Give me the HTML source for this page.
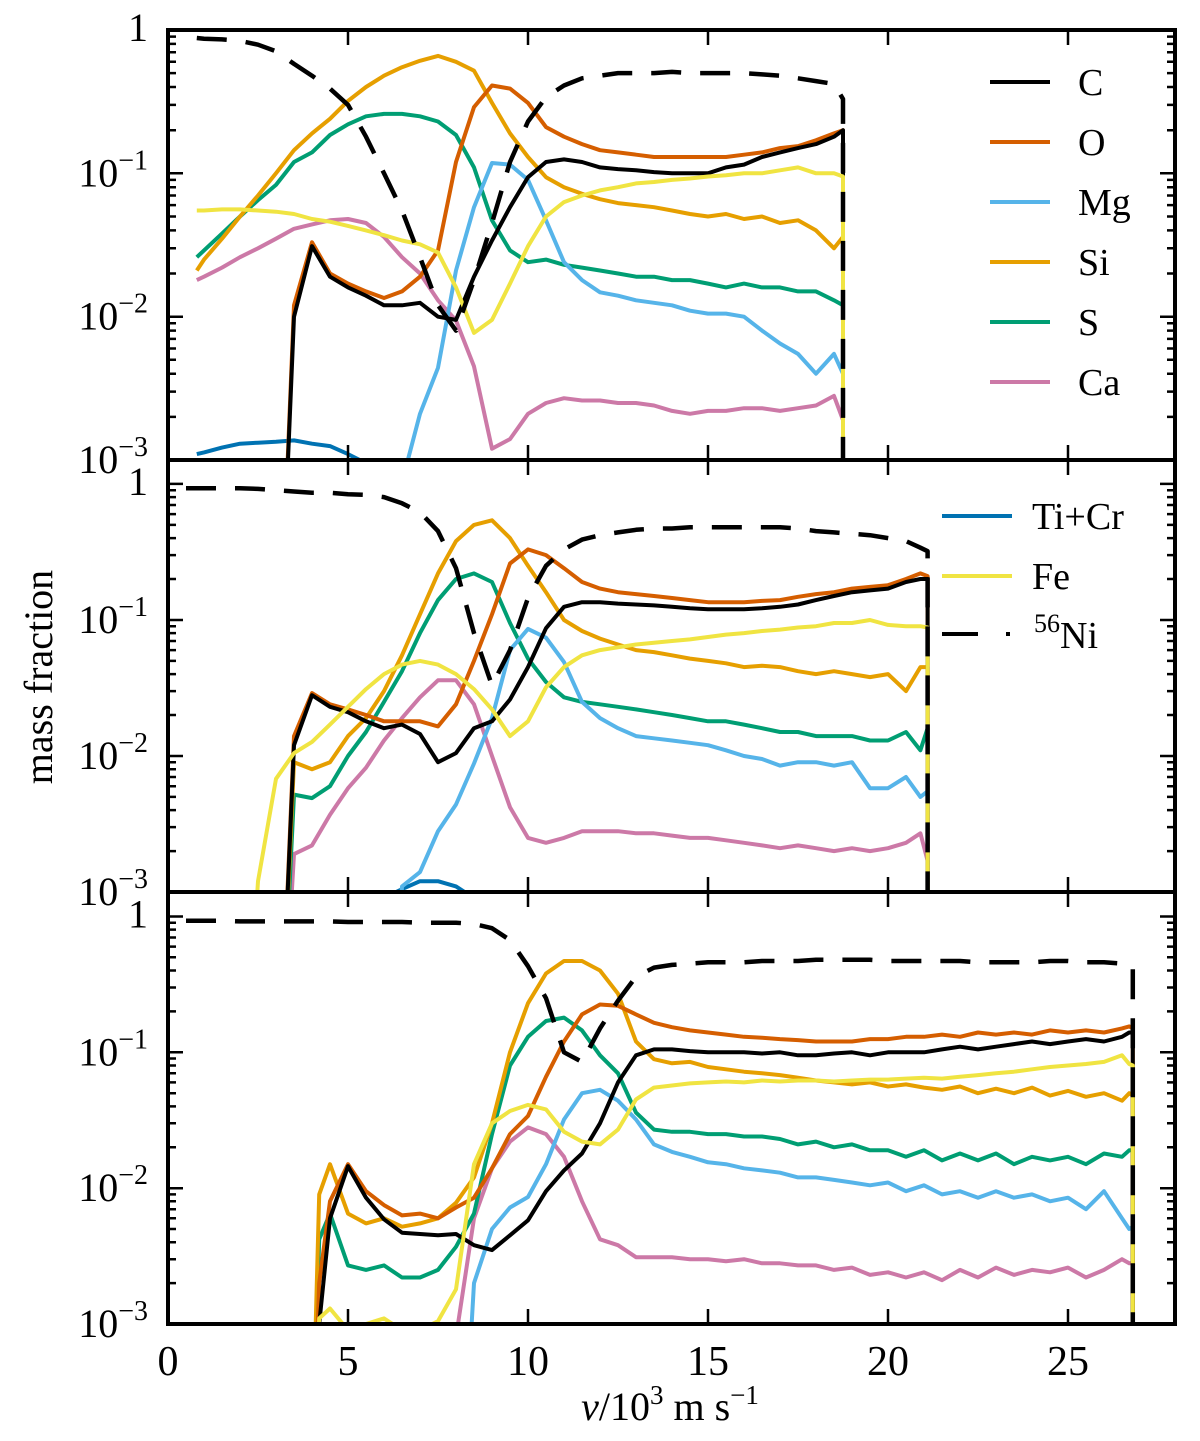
<!DOCTYPE html>
<html><head><meta charset="utf-8"><style>
html,body{margin:0;padding:0;background:#fff;width:1200px;height:1441px;overflow:hidden}
svg{display:block;font-family:"Liberation Serif",serif}
</style></head><body>
<svg id="chart" width="1200" height="1441" viewBox="0 0 1200 1441" font-family="Liberation Serif, serif">
<defs>
<clipPath id="c1"><rect x="168" y="30" width="1007" height="430"/></clipPath>
<clipPath id="c2"><rect x="168" y="460" width="1007" height="432"/></clipPath>
<clipPath id="c3"><rect x="168" y="892" width="1007" height="432"/></clipPath>
</defs>
<g id="marks"></g>
<g id="axes"></g>
<text x="52" y="677" font-size="40" text-anchor="middle" transform="rotate(-90 52 677)">mass fraction</text>
<text x="670" y="1420" font-size="40" text-anchor="middle"><tspan font-style="italic">v</tspan>/10<tspan font-size="27" dy="-16">3</tspan><tspan dy="16"> m s</tspan><tspan font-size="27" dy="-16">−1</tspan></text>
<g>
<line x1="990" y1="82" x2="1050" y2="82" stroke="#000" stroke-width="4"/><text x="1078" y="95" font-size="38">C</text>
<line x1="990" y1="142" x2="1050" y2="142" stroke="#D55E00" stroke-width="4"/><text x="1078" y="155" font-size="38">O</text>
<line x1="990" y1="202" x2="1050" y2="202" stroke="#56B4E9" stroke-width="4"/><text x="1078" y="215" font-size="38">Mg</text>
<line x1="990" y1="262" x2="1050" y2="262" stroke="#E69F00" stroke-width="4"/><text x="1078" y="275" font-size="38">Si</text>
<line x1="990" y1="322" x2="1050" y2="322" stroke="#009E73" stroke-width="4"/><text x="1078" y="335" font-size="38">S</text>
<line x1="990" y1="382" x2="1050" y2="382" stroke="#CC79A7" stroke-width="4"/><text x="1078" y="395" font-size="38">Ca</text>
</g>
<g>
<line x1="942" y1="516" x2="1012" y2="516" stroke="#0072B2" stroke-width="4"/><text x="1032" y="529" font-size="38">Ti+Cr</text>
<line x1="942" y1="576" x2="1012" y2="576" stroke="#F0E442" stroke-width="4"/><text x="1032" y="589" font-size="38">Fe</text>
<line x1="942" y1="634" x2="978" y2="634" stroke="#000" stroke-width="4"/><rect x="1006" y="632" width="4" height="4" fill="#000"/><text x="1034" y="648" font-size="38"><tspan font-size="26" dy="-16">56</tspan><tspan dy="16">Ni</tspan></text>
</g>
</svg>
<script>
const N = 1e-5;
const vel1 = [0.8,1,1.5,2,2.5,3,3.5,4,4.5,5,5.5,6,6.5,7,7.5,8,8.5,9,9.5,10,10.5,11,11.5,12,12.5,13,13.5,14,14.5,15,15.5,16,16.5,17,17.5,18,18.5,18.75,18.75];
const C1 = [N,N,N,N,N,N,0.01,0.031,0.019,0.016,0.014,0.012,0.012,0.0125,0.01,0.0095,0.019,0.034,0.058,0.094,0.12,0.125,0.12,0.11,0.107,0.105,0.102,0.1,0.1,0.1,0.11,0.115,0.13,0.14,0.15,0.16,0.18,0.2,N];
const O1 = [N,N,N,N,N,N,0.012,0.033,0.02,0.017,0.015,0.0135,0.015,0.019,0.029,0.12,0.29,0.41,0.39,0.31,0.21,0.18,0.16,0.145,0.14,0.135,0.13,0.13,0.13,0.13,0.13,0.135,0.14,0.15,0.155,0.17,0.19,0.2,N];
const Mg1 = [N,N,N,N,N,N,N,N,N,N,N,N,0.0007,0.0021,0.0044,0.021,0.058,0.118,0.115,0.09,0.047,0.024,0.018,0.0148,0.014,0.013,0.0125,0.012,0.011,0.0105,0.0105,0.01,0.008,0.0065,0.0055,0.004,0.0055,0.004,N];
const Si1 = [0.021,0.025,0.035,0.05,0.07,0.1,0.145,0.19,0.24,0.32,0.4,0.48,0.55,0.61,0.66,0.6,0.52,0.31,0.19,0.13,0.094,0.08,0.072,0.066,0.062,0.06,0.058,0.055,0.052,0.05,0.052,0.048,0.05,0.045,0.047,0.04,0.03,0.036,N];
const S1 = [0.026,0.029,0.038,0.05,0.065,0.083,0.12,0.14,0.185,0.22,0.25,0.26,0.26,0.25,0.23,0.185,0.11,0.047,0.029,0.024,0.025,0.023,0.022,0.021,0.02,0.019,0.019,0.018,0.018,0.017,0.016,0.017,0.016,0.016,0.015,0.015,0.013,0.012,N];
const Ca1 = [0.018,0.019,0.022,0.026,0.03,0.035,0.041,0.044,0.047,0.048,0.045,0.036,0.026,0.02,0.013,0.0094,0.0045,0.0012,0.0014,0.0021,0.0025,0.0027,0.0026,0.0026,0.0025,0.0025,0.0024,0.0022,0.0021,0.0022,0.0022,0.0023,0.0023,0.0022,0.0023,0.0024,0.0028,0.0019,N];
const TiCr1 = [0.0011,0.00113,0.00122,0.0013,0.00132,0.00134,0.00137,0.0013,0.00125,0.0011,0.00095,0.0008,N,N,N,N,N,N,N,N,N,N,N,N,N,N,N,N,N,N,N,N,N,N,N,N,N,N,N];
const Fe1 = [0.055,0.055,0.056,0.056,0.055,0.054,0.052,0.048,0.046,0.043,0.04,0.037,0.034,0.032,0.028,0.016,0.0077,0.0095,0.017,0.031,0.05,0.063,0.07,0.076,0.08,0.085,0.087,0.09,0.092,0.095,0.097,0.1,0.1,0.105,0.11,0.1,0.1,0.095,N];
const Ni1 = [0.88,0.87,0.86,0.84,0.79,0.71,0.58,0.48,0.39,0.3,0.18,0.1,0.055,0.026,0.012,0.008,0.018,0.045,0.12,0.23,0.34,0.41,0.46,0.48,0.5,0.5,0.5,0.51,0.5,0.5,0.5,0.5,0.49,0.48,0.46,0.44,0.42,0.33,N];

const vel2 = [0.5,1,1.5,2,2.5,3,3.5,4,4.5,5,5.5,6,6.5,7,7.5,8,8.5,9,9.5,10,10.5,11,11.5,12,12.5,13,13.5,14,14.5,15,15.5,16,16.5,17,17.5,18,18.5,19,19.5,20,20.5,20.9,21.1,21.1];
const C2 = [N,N,N,N,N,N,0.012,0.028,0.023,0.021,0.018,0.016,0.017,0.0145,0.009,0.0105,0.016,0.018,0.026,0.045,0.087,0.125,0.135,0.135,0.132,0.13,0.128,0.125,0.122,0.12,0.12,0.12,0.122,0.125,0.13,0.14,0.15,0.16,0.165,0.17,0.19,0.2,0.2,N];
const O2 = [N,N,N,N,N,N,0.014,0.029,0.024,0.022,0.02,0.018,0.018,0.018,0.0165,0.024,0.05,0.11,0.26,0.33,0.3,0.24,0.19,0.17,0.16,0.155,0.15,0.145,0.14,0.135,0.135,0.135,0.138,0.14,0.148,0.155,0.16,0.17,0.175,0.18,0.2,0.22,0.21,N];
const Mg2 = [N,N,N,N,N,N,N,N,N,N,N,N,0.0011,0.0014,0.0028,0.0044,0.0088,0.019,0.06,0.086,0.074,0.049,0.025,0.019,0.016,0.014,0.0135,0.013,0.0125,0.012,0.011,0.01,0.0095,0.0085,0.009,0.009,0.0085,0.009,0.0058,0.0058,0.007,0.005,0.0055,N];
const Si2 = [N,N,N,N,N,N,0.009,0.008,0.009,0.014,0.019,0.03,0.055,0.11,0.22,0.38,0.5,0.54,0.4,0.25,0.16,0.1,0.083,0.073,0.066,0.06,0.058,0.055,0.052,0.05,0.048,0.045,0.046,0.045,0.042,0.04,0.042,0.04,0.038,0.04,0.03,0.045,0.045,N];
const S2 = [N,N,N,N,N,N,0.0052,0.0049,0.006,0.01,0.015,0.025,0.042,0.08,0.14,0.2,0.22,0.19,0.095,0.052,0.035,0.027,0.025,0.024,0.023,0.022,0.021,0.02,0.019,0.018,0.018,0.017,0.016,0.015,0.015,0.014,0.014,0.014,0.013,0.013,0.015,0.011,0.016,N];
const Ca2 = [N,N,N,N,N,N,0.0019,0.0022,0.0037,0.0058,0.0082,0.013,0.019,0.027,0.036,0.036,0.024,0.01,0.0042,0.0025,0.0023,0.0025,0.0028,0.0028,0.0028,0.0027,0.0027,0.0026,0.0025,0.0025,0.0024,0.0023,0.0022,0.0021,0.0022,0.0021,0.002,0.0021,0.002,0.0021,0.0023,0.0027,0.0017,N];
const TiCr2 = [N,N,N,N,N,N,N,N,N,N,N,0.0009,0.00105,0.0012,0.0012,0.0011,0.0009,N,N,N,N,N,N,N,N,N,N,N,N,N,N,N,N,N,N,N,N,N,N,N,N,N,N,N];
const Fe2 = [N,N,N,N,0.0012,0.0068,0.0105,0.0127,0.017,0.023,0.031,0.04,0.047,0.05,0.047,0.04,0.031,0.022,0.014,0.018,0.032,0.045,0.055,0.06,0.063,0.066,0.068,0.07,0.072,0.075,0.078,0.08,0.083,0.085,0.088,0.09,0.095,0.095,0.1,0.092,0.09,0.09,0.088,N];
const Ni2 = [0.93,0.93,0.93,0.93,0.92,0.9,0.88,0.86,0.86,0.84,0.83,0.8,0.72,0.62,0.45,0.24,0.08,0.033,0.06,0.145,0.25,0.33,0.39,0.42,0.44,0.46,0.47,0.47,0.48,0.48,0.48,0.48,0.48,0.48,0.47,0.45,0.44,0.43,0.42,0.4,0.38,0.34,0.32,N];

const vel3 = [0.5,1,1.5,2,2.5,3,3.5,3.9,4.2,4.5,5,5.5,6,6.5,7,7.5,8,8.5,9,9.5,10,10.5,11,11.5,12,12.5,13,13.5,14,14.5,15,15.5,16,16.5,17,17.5,18,18.5,19,19.5,20,20.5,21,21.5,22,22.5,23,23.5,24,24.5,25,25.5,26,26.5,26.7,26.8,26.8];
const C3 = [N,N,N,N,N,N,N,N,0.001,0.006,0.0145,0.0085,0.0059,0.0047,0.0046,0.0045,0.0046,0.0038,0.0035,0.0045,0.0058,0.0095,0.0135,0.018,0.03,0.06,0.095,0.105,0.105,0.102,0.1,0.1,0.1,0.098,0.1,0.095,0.095,0.098,0.1,0.095,0.1,0.1,0.1,0.105,0.11,0.105,0.11,0.115,0.12,0.115,0.12,0.125,0.12,0.13,0.14,0.14,N];
const O3 = [N,N,N,N,N,N,N,N,0.002,0.008,0.015,0.0095,0.0075,0.0063,0.0065,0.006,0.0072,0.0085,0.014,0.025,0.034,0.066,0.12,0.19,0.225,0.22,0.19,0.165,0.153,0.145,0.14,0.135,0.13,0.128,0.125,0.123,0.12,0.12,0.12,0.125,0.125,0.13,0.13,0.135,0.13,0.14,0.135,0.14,0.135,0.145,0.14,0.145,0.14,0.15,0.155,0.15,N];
const Mg3 = [N,N,N,N,N,N,N,N,N,N,N,N,N,N,N,N,N,0.002,0.005,0.0072,0.0086,0.015,0.032,0.05,0.053,0.044,0.032,0.021,0.0185,0.017,0.0155,0.015,0.014,0.0135,0.013,0.012,0.012,0.0115,0.011,0.0105,0.011,0.0095,0.0105,0.009,0.0095,0.0085,0.0095,0.0085,0.009,0.008,0.0085,0.007,0.0095,0.006,0.005,0.0052,N];
const Si3 = [N,N,N,N,N,N,N,N,0.009,0.015,0.0065,0.0055,0.006,0.0052,0.0055,0.006,0.0078,0.012,0.03,0.1,0.23,0.38,0.47,0.47,0.4,0.27,0.12,0.089,0.083,0.085,0.078,0.075,0.072,0.07,0.068,0.065,0.062,0.06,0.058,0.06,0.056,0.058,0.055,0.053,0.056,0.05,0.054,0.05,0.055,0.048,0.052,0.047,0.05,0.044,0.05,0.048,N];
const S3 = [N,N,N,N,N,N,N,N,0.0042,0.0065,0.0027,0.0025,0.0027,0.0022,0.0022,0.0025,0.0037,0.0065,0.025,0.08,0.13,0.17,0.18,0.145,0.095,0.07,0.036,0.027,0.026,0.026,0.025,0.025,0.024,0.024,0.023,0.021,0.022,0.02,0.021,0.019,0.019,0.017,0.019,0.016,0.018,0.016,0.018,0.015,0.017,0.016,0.017,0.015,0.018,0.017,0.019,0.019,N];
const Ca3 = [N,N,N,N,N,N,N,N,N,N,N,N,N,N,N,N,0.0008,0.006,0.014,0.022,0.028,0.025,0.017,0.008,0.0042,0.0038,0.0031,0.0031,0.0031,0.003,0.003,0.0029,0.003,0.0028,0.0028,0.0027,0.0027,0.0025,0.0026,0.0023,0.0024,0.0022,0.0024,0.0021,0.0025,0.0022,0.0026,0.0023,0.0025,0.0024,0.0026,0.0022,0.0025,0.003,0.0028,0.0028,N];
const TiCr3 = [N,N,N,N,N,N,N,N,N,N,N,N,N,N,N,N,N,N,N,N,N,N,N,N,N,N,N,N,N,N,N,N,N,N,N,N,N,N,N,N,N,N,N,N,N,N,N,N,N,N,N,N,N,N,N,N,N];
const Fe3 = [N,N,N,N,N,N,N,N,0.0011,0.0013,0.0009,0.001,0.0011,0.0009,0.0009,0.00105,0.0018,0.015,0.03,0.037,0.041,0.038,0.026,0.022,0.021,0.027,0.045,0.055,0.057,0.059,0.06,0.061,0.06,0.062,0.061,0.062,0.062,0.061,0.062,0.063,0.063,0.064,0.065,0.064,0.066,0.068,0.07,0.072,0.075,0.078,0.08,0.082,0.085,0.095,0.082,0.08,N];
const Ni3 = [0.93,0.93,0.93,0.92,0.92,0.92,0.92,0.92,0.92,0.92,0.91,0.91,0.91,0.91,0.9,0.9,0.9,0.88,0.82,0.67,0.43,0.25,0.1,0.085,0.15,0.24,0.36,0.42,0.44,0.45,0.46,0.46,0.46,0.47,0.47,0.47,0.48,0.48,0.48,0.48,0.47,0.47,0.47,0.47,0.47,0.46,0.46,0.46,0.46,0.47,0.47,0.46,0.46,0.45,0.44,0.43,N];

const xTicks = [0,5,10,15,20,25];
const yTickExp = [0,-1,-2,-3];
const yTickLabels = ["1","10|−1","10|−2","10|−3"];

const NS = "http://www.w3.org/2000/svg";
const X0 = 168, XR = 1175, PX = 36;
const panels = [
  {top:30, bot:460, lmax:0, clip:"c1", vel:vel1, s:{C:C1,O:O1,Mg:Mg1,Si:Si1,S:S1,Ca:Ca1,TiCr:TiCr1,Fe:Fe1,Ni:Ni1}},
  {top:460, bot:892, lmax:0.176, clip:"c2", vel:vel2, s:{C:C2,O:O2,Mg:Mg2,Si:Si2,S:S2,Ca:Ca2,TiCr:TiCr2,Fe:Fe2,Ni:Ni2}},
  {top:892, bot:1324, lmax:0.18, clip:"c3", vel:vel3, s:{C:C3,O:O3,Mg:Mg3,Si:Si3,S:S3,Ca:Ca3,TiCr:TiCr3,Fe:Fe3,Ni:Ni3}}
];
const colors = {C:"#000000",O:"#D55E00",Mg:"#56B4E9",Si:"#E69F00",S:"#009E73",Ca:"#CC79A7",TiCr:"#0072B2",Fe:"#F0E442",Ni:"#000000"};
const order = ["TiCr","Ca","S","Mg","Si","O","C","Fe","Ni"];
function xs(v){return X0 + v*PX;}
function ys(p,val){const l=Math.log10(Math.max(val,1e-6));return p.bot - (l+3)/(p.lmax+3)*(p.bot-p.top);}
const marks = document.getElementById('marks');
const axes = document.getElementById('axes');
panels.forEach((p,pi)=>{
  const g = document.createElementNS(NS,'g');
  g.setAttribute('clip-path','url(#'+p.clip+')');
  
  
  marks.appendChild(g);
  order.forEach(k=>{
    const arr = p.s[k];
    let d = "";
    arr.forEach((val,i)=>{d += (i?"L":"M") + xs(p.vel[i]).toFixed(1) + "," + ys(p,val).toFixed(1);});
    const path = document.createElementNS(NS,'path');
    path.setAttribute('d',d);
    path.setAttribute('fill','none');
    path.setAttribute('stroke',colors[k]);
    path.setAttribute('stroke-width', k==="Ni"?"4.5":"4");
    path.setAttribute('stroke-linejoin','round');
    if(k==="Ni") path.setAttribute('stroke-dasharray','30,19');
    
    
    g.appendChild(path);
  });
  const r = document.createElementNS(NS,'rect');
  r.setAttribute('x',X0); r.setAttribute('y',p.top);
  r.setAttribute('width',XR-X0); r.setAttribute('height',p.bot-p.top);
  r.setAttribute('fill','none'); r.setAttribute('stroke','#000'); r.setAttribute('stroke-width','4');
  
  
  axes.appendChild(r);
  let tk = "";
  xTicks.forEach(t=>{const x=xs(t); tk+=`M${x},${p.bot}v-15M${x},${p.top}v15`;});
  for(let e=-3;e<=0;e++){
    for(let m=1;m<=9;m++){
      const v=m*Math.pow(10,e); const l=Math.log10(v);
      if(l>p.lmax+1e-9) continue;
      const y=ys(p,v); const len=(m===1)?15:8;
      if(y<p.top-0.5||y>p.bot+0.5) continue;
      tk+=`M${X0},${y.toFixed(1)}h${len}M${XR},${y.toFixed(1)}h${-len}`;
    }
  }
  const tp = document.createElementNS(NS,'path');
  tp.setAttribute('d',tk); tp.setAttribute('stroke','#000'); tp.setAttribute('stroke-width','2.5'); tp.setAttribute('fill','none');
  
  
  axes.appendChild(tp);
  yTickExp.forEach((e,i)=>{
    const y = ys(p,Math.pow(10,e));
    const t = document.createElementNS(NS,'text');
    t.setAttribute('x',148); t.setAttribute('y',(y+(e===0?11:13)).toFixed(1));
    t.setAttribute('text-anchor','end'); t.setAttribute('font-size','40');
    
    
    const parts = yTickLabels[i].split('|');
    if(parts.length===1){t.textContent=parts[0];}
    else{
      const a=document.createElementNS(NS,'tspan'); a.textContent=parts[0];
      const b=document.createElementNS(NS,'tspan'); b.textContent=parts[1];
      b.setAttribute('font-size','28'); b.setAttribute('dy','-17');
      t.appendChild(a); t.appendChild(b);
    }
    axes.appendChild(t);
  });
});
xTicks.forEach(t=>{
  const tx = document.createElementNS(NS,'text');
  tx.setAttribute('x',xs(t)); tx.setAttribute('y',1375);
  tx.setAttribute('text-anchor','middle'); tx.setAttribute('font-size','42');
  
  
  tx.textContent = String(t);
  axes.appendChild(tx);
});
</script>
</body></html>
